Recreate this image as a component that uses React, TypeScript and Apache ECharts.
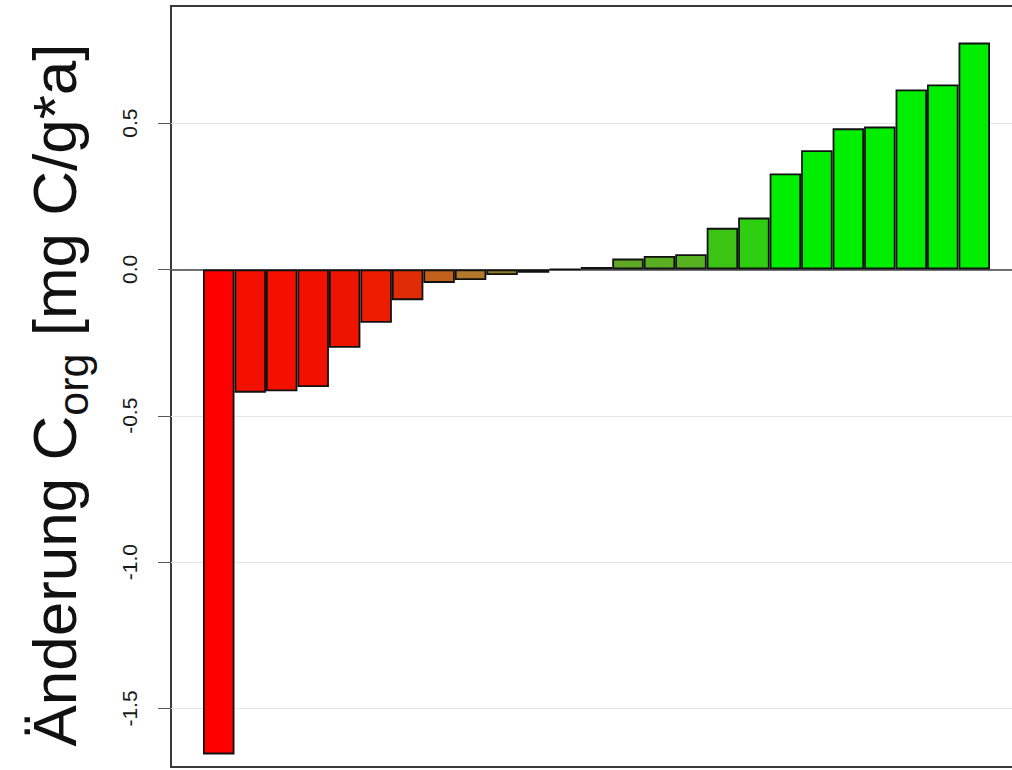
import React, { useEffect, useRef } from "react";
import * as echarts from "echarts";

const categories = [
  "1", "2", "3", "4", "5", "6", "7", "8", "9", "10", "11", "12", "13",
  "14", "15", "16", "17", "18", "19", "20", "21", "22", "23", "24", "25",
];
const values = [
  -1.657, -0.421, -0.416, -0.402, -0.268, -0.182, -0.105, -0.046, -0.036,
  -0.019, -0.011, 0.001, 0.008, 0.037, 0.046, 0.052, 0.142, 0.177, 0.328,
  0.407, 0.482, 0.488, 0.615, 0.632, 0.775,
];
const barColors = [
  "#FF0000", "#F31000", "#F31000", "#F21100", "#EE1500", "#EB1C00",
  "#E02C05", "#C0601A", "#B4782A", "#8C7E28", "#6A6A20", "#556B20",
  "#4A7A18", "#5FA825", "#5AAE22", "#56B220", "#3CC415", "#2ECF10",
  "#00EE00", "#00EE00", "#00EE00", "#00EE00", "#00EE00", "#00EE00", "#00EE00",
];
const yTicks = [-1.5, -1.0, -0.5, 0.0, 0.5];
const yMin = -1.7;
const yMax = 0.9;
const yTitle = "{m|Änderung C}{s|org}{m| [mg C/g*a]}";

export default function App() {
  const ref = useRef<HTMLDivElement>(null);
  useEffect(() => {
    if (!ref.current) return;
    const chart = echarts.init(ref.current, undefined, { renderer: "svg" });
    const font = "Liberation Sans";
    chart.setOption({
      animation: false,
      backgroundColor: "#ffffff",
      grid: [
        {
          left: 171, top: 6, width: 900, height: 761,
          outerBoundsMode: "none", containLabel: false,
          show: true, borderColor: "#3a3a3a", borderWidth: 2,
          backgroundColor: "transparent",
        },
        { left: 203, top: 6, width: 787, height: 761, outerBoundsMode: "none", containLabel: false },
      ],
      xAxis: [
        {
          type: "value", gridIndex: 0, min: 0, max: 1,
          axisLine: { show: true, onZero: true, lineStyle: { color: "#444", width: 1.5 } },
          axisTick: { show: false }, axisLabel: { show: false }, splitLine: { show: false },
        },
        {
          type: "category", gridIndex: 1, data: categories,
          axisLine: { show: false }, axisTick: { show: false },
          axisLabel: { show: false }, splitLine: { show: false },
        },
      ],
      yAxis: [
        {
          type: "value", gridIndex: 0, min: yMin, max: yMax,
          axisLine: { show: false },
          axisTick: {
            show: true, length: 13, customValues: yTicks,
            lineStyle: { color: "#555", width: 1 },
          },
          axisLabel: {
            show: true, customValues: yTicks, rotate: 90, margin: 31,
            fontFamily: font, fontSize: 21, color: "#1a1a1a",
            formatter: (v: number) => v.toFixed(1),
          },
          splitLine: { show: true, lineStyle: { color: "#e4e4e4", width: 1 } },
        },
        {
          type: "value", gridIndex: 1, min: yMin, max: yMax, show: false,
          splitLine: { show: false },
        },
      ],
      series: [
        {
          type: "bar", xAxisIndex: 1, yAxisIndex: 1,
          barCategoryGap: "0%",
          data: values.map((v, i) => ({ value: v, itemStyle: { color: barColors[i] } })),
          itemStyle: { borderColor: "#111", borderWidth: 1.8 },
        },
      ],
      graphic: [
        {
          type: "text", x: 54, y: 395, rotation: Math.PI / 2,
          style: {
            text: yTitle, align: "center", verticalAlign: "middle", fill: "#111",
            rich: {
              m: { fontFamily: font, fontSize: 62, lineHeight: 62, verticalAlign: "top", fill: "#111" },
              s: { fontFamily: font, fontSize: 43, lineHeight: 43, verticalAlign: "top", padding: [28, 0, 0, 0], fill: "#111" },
            },
          },
        },
      ],
    });
    return () => chart.dispose();
  }, []);
  return (
    <div
      ref={ref}
      style={{ position: "fixed", left: 0, top: 0, width: 1100, height: 770 }}
    />
  );
}
